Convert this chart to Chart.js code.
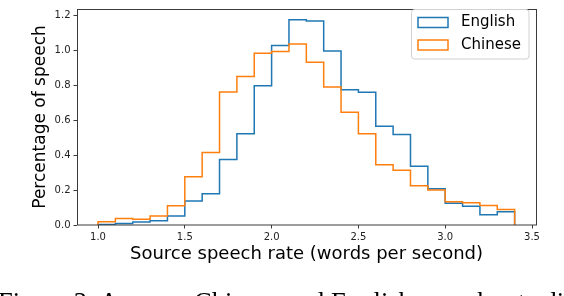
<!DOCTYPE html>
<html>
<head>
<meta charset="utf-8">
<script src="https://cdn.jsdelivr.net/npm/chart.js@4.4.1/dist/chart.umd.min.js"></script>
<style>
  html, body { margin: 0; padding: 0; background: #fff; overflow: hidden; }
  #wrap { position: relative; width: 564px; height: 296px; overflow: hidden; }
  #rateChart { display: block; }
  #caption {
    position: absolute; left: -2px; top: 289px;
    font-family: "Liberation Serif", serif; font-size: 26.5px; line-height: 26px;
    white-space: nowrap; color: #000;
  }
</style>
</head>
<body>
<div id="wrap">
  <canvas id="rateChart" width="564" height="296"></canvas>
  <div id="caption">Figure 3: Average Chinese and English speech rate distributions</div>
</div>
<script>
// histogram bins (words per second), 0.1 wide
const binEdges = [1.0, 1.1, 1.2, 1.3, 1.4, 1.5, 1.6, 1.7, 1.8, 1.9, 2.0, 2.1, 2.2,
                  2.3, 2.4, 2.5, 2.6, 2.7, 2.8, 2.9, 3.0, 3.1, 3.2, 3.3, 3.4];
const englishValues = [0.003, 0.009, 0.017, 0.024, 0.052, 0.138, 0.179, 0.375, 0.522, 0.797, 1.028, 1.175,
                       1.168, 0.996, 0.775, 0.760, 0.566, 0.518, 0.336, 0.207, 0.125, 0.107, 0.059, 0.076];
const chineseValues = [0.018, 0.037, 0.033, 0.052, 0.110, 0.277, 0.415, 0.762, 0.850, 0.983, 0.993, 1.037,
                       0.932, 0.790, 0.646, 0.522, 0.345, 0.314, 0.225, 0.200, 0.133, 0.127, 0.111, 0.089];
const seriesNames = ["English", "Chinese"];
const xTickLabels = [1.0, 1.5, 2.0, 2.5, 3.0, 3.5];
const yTickLabels = [0.0, 0.2, 0.4, 0.6, 0.8, 1.0, 1.2];

// step outline like matplotlib histtype="step"
function outline(values) {
    const pts = [{ x: binEdges[0], y: 0 }];
    values.forEach(function (v, i) { pts.push({ x: binEdges[i + 1], y: v }); });
    pts.push({ x: binEdges[binEdges.length - 1], y: 0 });
    return pts;
}

const spineColor = "#3a3a3a";

// axes frame on all four sides
const framePlugin = {
    id: "frame",
    afterDatasetsDraw(chart) {
        const { ctx, chartArea: a } = chart;
        ctx.save();
        ctx.strokeStyle = spineColor;
        ctx.lineWidth = 1;
        ctx.strokeRect(Math.round(a.left) + 0.5, Math.round(a.top) + 0.5,
                       Math.round(a.right - a.left), Math.round(a.bottom - a.top) - 0.5);
        ctx.restore();
    }
};

// matplotlib-style legend in the upper right corner
const legendPlugin = {
    id: "boxLegend",
    afterDraw(chart) {
        const ctx = chart.ctx;
        const x0 = 411.5, y0 = 9.5, w = 117.5, h = 49.5;
        ctx.save();
        ctx.beginPath();
        ctx.roundRect(x0, y0, w, h, 3);
        ctx.fillStyle = "rgba(255,255,255,0.8)";
        ctx.fill();
        ctx.strokeStyle = "#d0d0d0";
        ctx.lineWidth = 1;
        ctx.stroke();
        ctx.font = "15px 'DejaVu Sans'";
        ctx.textBaseline = "middle";
        ctx.fillStyle = "#000";
        chart.data.datasets.forEach(function (ds, i) {
            const cy = 22.5 + i * 22.5;
            ctx.strokeStyle = ds.borderColor;
            ctx.lineWidth = 1.5;
            ctx.strokeRect(418, cy - 5, 30, 10);
            ctx.fillText(ds.label, 461, cy);
        });
        ctx.restore();
    }
};

const ctx = document.getElementById("rateChart").getContext("2d");
const rateChart = new Chart(ctx, {
    type: "line",
    data: {
        datasets: [{
            label: seriesNames[0],
            data: outline(englishValues),
            borderColor: "#1f77b4",
            borderWidth: 1.5,
            stepped: "after",
            pointRadius: 0,
            fill: false,
            order: 1
        }, {
            label: seriesNames[1],
            data: outline(chineseValues),
            borderColor: "#ff7f0e",
            borderWidth: 1.5,
            stepped: "after",
            pointRadius: 0,
            fill: false,
            order: 0
        }]
    },
    options: {
        responsive: false,
        animation: false,
        layout: { padding: { left: 0, right: 28, top: 1.5, bottom: 0 } },
        plugins: {
            legend: { display: false },
            tooltip: { enabled: false }
        },
        scales: {
            x: {
                type: "linear",
                min: 0.879,
                max: 3.523,
                afterBuildTicks: function (scale) {
                    scale.ticks = xTickLabels.map(function (v) { return { value: v }; });
                },
                afterFit: function (scale) { scale.height = 71; },
                ticks: {
                    autoSkip: false,
                    maxRotation: 0,
                    padding: 3,
                    color: "#222",
                    font: { family: "DejaVu Sans", size: 10 },
                    callback: function (v) { return Number(v).toFixed(1); }
                },
                grid: { drawOnChartArea: false, drawTicks: true, tickLength: 3.5, tickColor: spineColor },
                border: { display: false },
                title: {
                    display: true,
                    text: "Source speech rate (words per second)",
                    color: "#000",
                    font: { family: "DejaVu Sans", size: 18 },
                    padding: { top: 0, bottom: 31 }
                }
            },
            y: {
                min: 0,
                max: 1.237,
                afterBuildTicks: function (scale) {
                    scale.ticks = yTickLabels.map(function (v) { return { value: v }; });
                },
                afterFit: function (scale) { scale.width = 77; },
                ticks: {
                    padding: 3,
                    color: "#222",
                    font: { family: "DejaVu Sans", size: 10 },
                    callback: function (v) { return Number(v).toFixed(1); }
                },
                grid: { drawOnChartArea: false, drawTicks: true, tickLength: 3.5, tickColor: spineColor },
                border: { display: false },
                title: {
                    display: true,
                    text: "Percentage of speech",
                    color: "#000",
                    font: { family: "DejaVu Sans", size: 17 },
                    padding: { top: 30, bottom: 0 }
                }
            }
        }
    },
    plugins: [framePlugin, legendPlugin]
});
</script>
</body>
</html>
